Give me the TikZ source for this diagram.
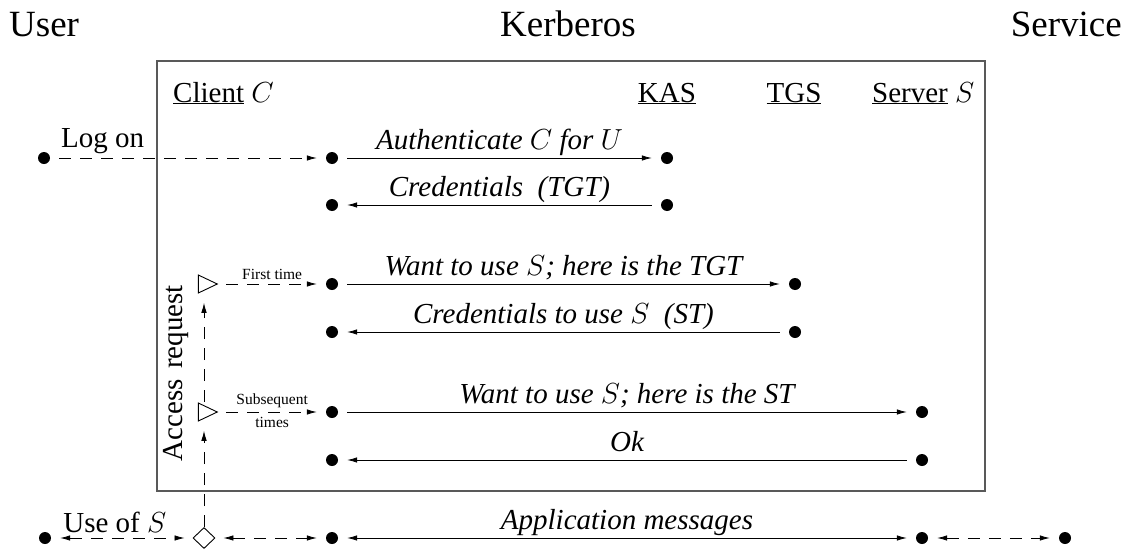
\RequirePackage{fix-cm}
\documentclass[tikz,border=0pt]{standalone}
\usepackage{fontspec}
\setmainfont{Liberation Serif}
\usetikzlibrary{arrows.meta,shapes.geometric}
\begin{document}
\begin{tikzpicture}[x=1pt,y=-1pt,
  dot/.style={circle,fill=black,inner sep=0pt,minimum size=12pt},
  tri/.style={isosceles triangle,draw,line width=0.9pt,inner sep=0pt,
    minimum width=18pt,minimum height=19pt,isosceles triangle stretches},
  dia/.style={diamond,draw,line width=0.9pt,inner sep=0pt,minimum width=22pt,minimum height=21pt},
  tip/.tip={Latex[length=10pt,width=5.5pt]},
  msg/.style={line width=0.8pt,-tip,shorten >=9pt,shorten <=9pt},
  bmsg/.style={line width=0.8pt,tip-tip,shorten >=9pt,shorten <=9pt},
  dmsg/.style={msg,dash pattern=on 12pt off 9pt},
  dbmsg/.style={bmsg,dash pattern=on 12pt off 9pt},
  title/.style={font=\fontsize{37}{44}\selectfont,inner sep=0pt},
  hdr/.style={font=\fontsize{29}{34}\selectfont,inner sep=0pt},
  lbl/.style={font=\fontsize{29}{34}\selectfont\itshape,inner sep=0pt,midway,anchor=base,yshift=9pt},
  rlbl/.style={font=\fontsize{29}{34}\selectfont,inner sep=0pt,anchor=base},
  small/.style={font=\fontsize{15.5}{18}\selectfont,inner sep=0pt,midway},
  boxline/.style={line width=1.2pt,draw=black!65}
]
\useasboundingbox (0,0) rectangle (1128,549);
% titles
\node[title,anchor=base west] (tuser) at (9,36) {User};
\node[title,anchor=base] (tker) at (568,36) {Kerberos};
\node[title,anchor=base east] (tser) at (1122,36) {Service};
% frame
\draw[boxline] (157,61) rectangle (985,491);
% headers
\node[hdr,anchor=base west] (hc) at (173,102) {\underline{Client} $C$};
\node[hdr,anchor=base] (hk) at (667,102) {\underline{KAS}};
\node[hdr,anchor=base] (ht) at (794,102) {\underline{TGS}};
\node[hdr,anchor=base west] (hs) at (872,102) {\underline{Server} $S$};
% points
\node[dot] (u1) at (44,158) {};
\node[dot] (c1) at (332,158) {};
\node[dot] (k1) at (667,158) {};
\node[dot] (c2) at (332,205) {};
\node[dot] (k2) at (667,205) {};
\node[tri] (t1) at (204,284) {};
\node[dot] (c3) at (332,284) {};
\node[dot] (g3) at (795,284) {};
\node[dot] (c4) at (332,332) {};
\node[dot] (g4) at (795,332) {};
\node[tri] (t2) at (204,412) {};
\node[dot] (c5) at (332,412) {};
\node[dot] (s5) at (922,412) {};
\node[dot] (c6) at (332,460) {};
\node[dot] (s6) at (922,460) {};
\node[dot] (u7) at (45,538) {};
\node[dia] (d7) at (204,538) {};
\node[dot] (c7) at (332,538) {};
\node[dot] (s7) at (922,538) {};
\node[dot] (r7) at (1065,538) {};
% connectors
\draw[dmsg] (u1) -- node[rlbl,pos=0.19,yshift=11pt] (llog) {Log on} (c1);
\draw[msg] (c1) -- node[lbl] (l1) {Authenticate $C$ for $U$} (k1);
\draw[msg] (k2) -- node[lbl] (l2) {Credentials~ (TGT)} (c2);
\draw[dmsg,shorten <=8pt] (t1) -- node[small,above=4pt] (lft) {First time} (c3);
\draw[msg] (c3) -- node[lbl] (l3) {Want to use $S$; here is the TGT} (g3);
\draw[msg] (g4) -- node[lbl] (l4) {Credentials to use $S$~ (ST)} (c4);
\draw[dmsg,shorten <=8pt] (t2) -- node[small,above=4pt] (lsub) {Subsequent} node[small,below=5pt] (ltim) {times} (c5);
\draw[msg] (c5) -- node[lbl] (l5) {Want to use $S$; here is the ST} (s5);
\draw[msg] (s6) -- node[lbl] (l6) {Ok} (c6);
\draw[dmsg,shorten <=0pt,shorten >=12pt] (d7) -- (t2);
\draw[dmsg,shorten <=3pt,shorten >=12pt] (t2) -- (t1);
\node[hdr,rotate=90] (acc) at (176,373) {Access\hspace{3pt} request};
\draw[dbmsg,shorten >=8pt] (u7) -- node[rlbl,pos=0.45,yshift=6pt] (luse) {Use of $S$} (d7);
\draw[dbmsg,shorten <=8pt] (d7) -- (c7);
\draw[bmsg] (c7) -- node[lbl] (l7) {Application messages} (s7);
\draw[dbmsg] (s7) -- (r7);
\end{tikzpicture}
\end{document}
